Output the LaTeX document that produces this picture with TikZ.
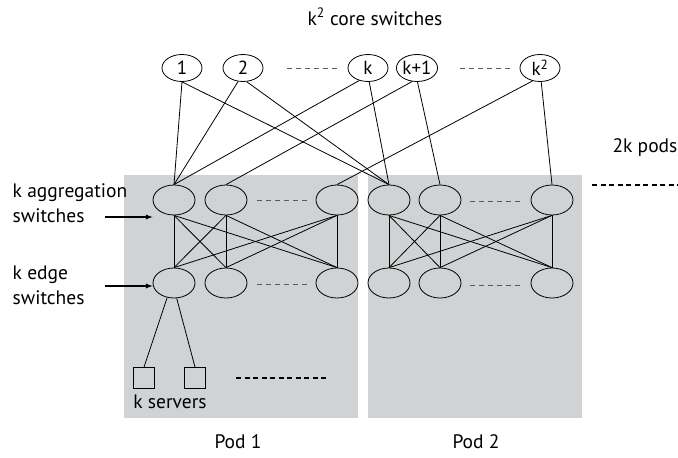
\documentclass[tikz,border=0pt]{standalone}
\usepackage{fontspec}
\setmainfont{PT Sans}
\usepackage{tikz}
\usetikzlibrary{shapes.geometric}
\definecolor{podgray}{RGB}{209,210,212}

\begin{document}
\begin{tikzpicture}[x=1pt,y=-1pt,line width=0.8pt,>=latex,
  sw/.style={draw,ellipse,inner sep=0pt,minimum width=42pt,minimum height=30pt},
  core/.style={draw,ellipse,inner sep=0pt,minimum width=40pt,minimum height=27pt,
    font=\fontsize{19}{20}\selectfont},
  srv/.style={draw,rectangle,minimum size=21pt,inner sep=0pt},
  lbl/.style={font=\fontsize{19.5}{25}\selectfont,align=left},
  gap/.style={gray!70!black,dash pattern=on 5pt off 4pt,line width=0.6pt},
  more/.style={line width=1.3pt,dash pattern=on 5pt off 3.5pt}]
  \useasboundingbox (0,0) rectangle (678,458);
  % pods
  \fill[podgray] (124,175) rectangle (358,418);
  \fill[podgray] (368,175) rectangle (582,418);
  % core switches
  \node[core] (c1)  at (182,68) {1};
  \node[core] (c2)  at (243,68) {2};
  \node[core] (ck)  at (368,68) {k};
  \node[core] (ck1) at (417,68) {k+1};
  \node[core] (ckk) at (540,68) {k\textsuperscript{2}};
  \draw[gap] (287,68) -- (337,68);
  \draw[gap] (460,68) -- (510,68);
  % pod 1
  \node[sw] (a11) at (174,200) {};
  \node[sw] (a12) at (226,200) {};
  \node[sw] (a13) at (337,200) {};
  \node[sw] (e11) at (174,283) {};
  \node[sw] (e12) at (226,283) {};
  \node[sw] (e13) at (337,283) {};
  \draw[gap] (257,200) -- (307,200);
  \draw[gap] (257,284) -- (307,284);
  % pod 2
  \node[sw] (a21) at (389,200) {};
  \node[sw] (a22) at (440,200) {};
  \node[sw] (a23) at (552,200) {};
  \node[sw] (e21) at (389,283) {};
  \node[sw] (e22) at (440,283) {};
  \node[sw] (e23) at (552,283) {};
  \draw[gap] (470,201) -- (520,201);
  \draw[gap] (470,285) -- (520,285);
  % servers
  \node[srv] (s1) at (144,378) {};
  \node[srv] (s2) at (195,378) {};
  \draw[more] (236,378) -- (328,378);
  \draw[more] (592,185) -- (678,185);

  \path
    (c1.south) edge (a11.north)
    (c1.south) edge (a21.north)
    (c2.250) edge (a11.north)
    (c2.285) edge (a21.north)
    (ck.235) edge (a11.north)
    (ck.275) edge (a21.north)
    (ck1.250) edge (a12.north)
    (ck1.272) edge (a22.north)
    (ckk.240) edge (a13.north)
    (ckk.275) edge (a23.north)
  ;
  \path
    (a11.south) edge (e11.north)
    (a11.south) edge (e12.north)
    (a11.south) edge (e13.north)
    (a12.south) edge (e11.north)
    (a12.south) edge (e12.north)
    (a12.south) edge (e13.north)
    (a13.south) edge (e11.north)
    (a13.south) edge (e12.north)
    (a13.south) edge (e13.north)
    (a21.south) edge (e21.north)
    (a21.south) edge (e22.north)
    (a21.south) edge (e23.north)
    (a22.south) edge (e21.north)
    (a22.south) edge (e22.north)
    (a22.south) edge (e23.north)
    (a23.south) edge (e21.north)
    (a23.south) edge (e22.north)
    (a23.south) edge (e23.north)
    (e11.245) edge (s1.north)
    (e11.280) edge (s2.north)
  ;
  % labels
  \node[lbl] (lcore) at (375,17) {k\textsuperscript{2} core switches};
  \node[lbl] (lpods) at (645,148) {2k pods};
  \node[lbl,anchor=west] (lagg) at (9,203) {k aggregation\\switches};
  \node[lbl,anchor=west] (ledge) at (9,285) {k edge\\switches};
  \node[lbl] (lsrv) at (170,402) {k servers};
  \node[lbl] (lpod1) at (238,442) {Pod 1};
  \node[lbl] (lpod2) at (476,442) {Pod 2};
  \coordinate (arra) at (105,217);
  \coordinate (arre) at (105,286);
  \draw[->,line width=1.3pt] (arra) -- (arra -| a11.west);
  \draw[->,line width=1.3pt] (arre) -- (arre -| e11.west);
\end{tikzpicture}
\end{document}
